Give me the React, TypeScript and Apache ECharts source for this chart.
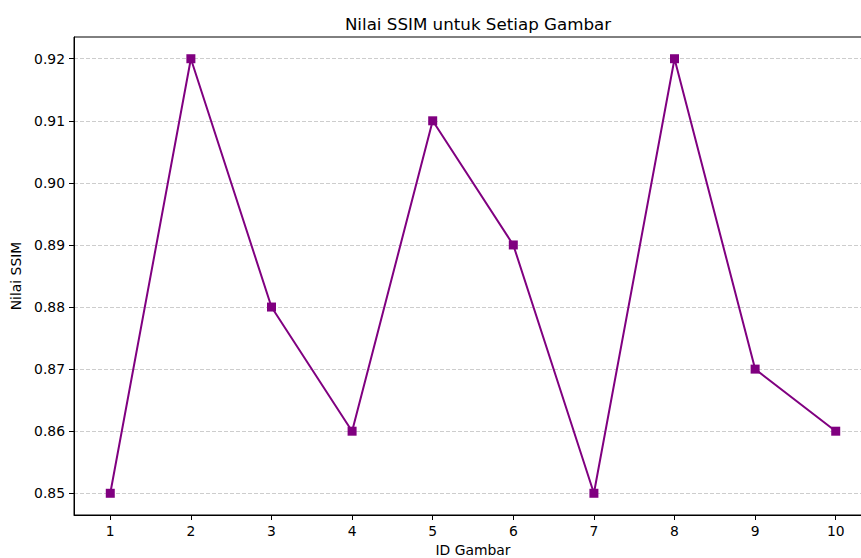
import React, { useEffect, useRef } from "react";
import * as echarts from "echarts";

const imageIds = [1, 2, 3, 4, 5, 6, 7, 8, 9, 10];
const ssimValues = [0.85, 0.92, 0.88, 0.86, 0.91, 0.89, 0.85, 0.92, 0.87, 0.86];
const yTicks = [0.85, 0.86, 0.87, 0.88, 0.89, 0.9, 0.91, 0.92];
const xTicks = [1, 2, 3, 4, 5, 6, 7, 8, 9, 10];

const FONT = "DejaVu Sans";

export default function App() {
  const ref = useRef<HTMLDivElement>(null);
  useEffect(() => {
    document.body.style.margin = "0";
    if (!ref.current) return;
    const chart = echarts.init(ref.current, undefined, { renderer: "svg" });
    const yMin = Math.min(...ssimValues);
    const yMax = Math.max(...ssimValues);
    const yPad = (yMax - yMin) * 0.05;
    const xMin = Math.min(...imageIds);
    const xMax = Math.max(...imageIds);
    const xPad = (xMax - xMin) * 0.05;
    chart.setOption({
      animation: false,
      backgroundColor: "#ffffff",
      textStyle: { fontFamily: FONT },
      title: {
        text: "Nilai SSIM untuk Setiap Gambar",
        left: 473,
        textAlign: "center",
        top: 10,
        textStyle: { fontFamily: FONT, fontSize: 16.7, fontWeight: "normal", color: "#000" },
      },
      grid: {
        left: 74,
        top: 37,
        right: -11,
        bottom: 43,
        show: true,
        borderColor: "#000",
        borderWidth: 1,
        backgroundColor: "transparent",
        containLabel: false,
        outerBoundsMode: "none",
      },
      xAxis: {
        type: "value",
        min: xMin - xPad,
        max: xMax + xPad,
        name: "ID Gambar",
        nameLocation: "middle",
        nameGap: 28,
        nameTextStyle: { fontFamily: FONT, fontSize: 13.9, color: "#000" },
        axisLine: { show: true, lineStyle: { color: "#000", width: 1 } },
        axisTick: { show: true, customValues: xTicks, length: 5, lineStyle: { color: "#000" } },
        axisLabel: {
          customValues: xTicks,
          margin: 9,
          fontFamily: FONT,
          fontSize: 13.9,
          color: "#000",
        },
        splitLine: { show: false },
      },
      yAxis: {
        type: "value",
        min: yMin - yPad,
        max: yMax + yPad,
        name: "Nilai SSIM",
        nameLocation: "middle",
        nameGap: 48,
        nameTextStyle: { fontFamily: FONT, fontSize: 13.9, color: "#000" },
        axisLine: { show: true, lineStyle: { color: "#000", width: 1 } },
        axisTick: { show: true, customValues: yTicks, length: 5, lineStyle: { color: "#000" } },
        axisLabel: {
          customValues: yTicks,
          margin: 9,
          fontFamily: FONT,
          fontSize: 13.9,
          color: "#000",
          formatter: (v: number) => v.toFixed(2),
        },
        splitLine: {
          show: true,
          lineStyle: { color: "#cdcdcd", width: 1, type: [4, 2] },
        },
      },
      series: [
        {
          type: "line",
          data: imageIds.map((id, i) => [id, ssimValues[i]]),
          symbol: "rect",
          symbolSize: 9,
          lineStyle: { color: "#800080", width: 2 },
          itemStyle: { color: "#800080" },
          z: 5,
        },
      ],
    });
    return () => chart.dispose();
  }, []);
  return <div ref={ref} style={{ width: 861, height: 558 }} />;
}
